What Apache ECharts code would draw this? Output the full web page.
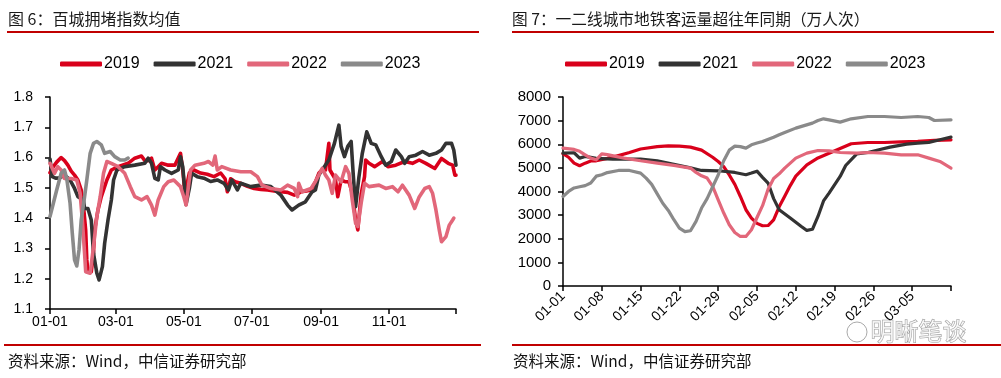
<!DOCTYPE html>
<html><head><meta charset="utf-8">
<script src="https://cdn.jsdelivr.net/npm/echarts@6/dist/echarts.min.js"></script>
<style>html,body{margin:0;padding:0;background:#fff;}#c{width:1001px;height:378px;}</style>
</head><body><div id="c"></div>
<script>
// ---------- categories / tick labels ----------
const MONTH_DAYS = [31,28,31,30,31,30,31,31,30,31,30,31];
function dayLabels(n){const out=[];let m=0,d=1;for(let i=0;i<n;i++){out.push(String(m+1).padStart(2,'0')+'-'+String(d).padStart(2,'0'));d++;if(d>MONTH_DAYS[m]){d=1;m++;}}return out;}
const leftCats = dayLabels(365);
const rightCats = dayLabels(71);
const LEFT_TICKS = ['01-01','03-01','05-01','07-01','09-01','11-01'];
const RIGHT_TICKS = ['01-01','01-08','01-15','01-22','01-29','02-05','02-12','02-19','02-26','03-05'];
const SERIES_NAMES = ['2019','2021','2022','2023'];

// ---------- left chart: 百城拥堵指数均值 (day index, value) ----------
const c19d = [0,3,6,10,13,16,19,22,25,28,30,32,33,34,37,39,40,43,46,51,55,61,70,76,82,85,88,91,94,97,100,106,112,117,119,121,125,129,135,141,147,153,157,159,162,166,171,177,183,189,195,201,207,213,219,222,225,230,234,238,241,244,247,250,251,254,256,258,261,265,268,271,274,276,279,282,283,286,291,298,303,310,318,325,331,337,345,351,357,361,363,364];
const c19v = [1.55,1.57,1.585,1.60,1.59,1.575,1.555,1.542,1.526,1.493,1.44,1.36,1.262,1.223,1.223,1.285,1.361,1.427,1.471,1.526,1.559,1.570,1.581,1.598,1.605,1.59,1.59,1.598,1.559,1.57,1.581,1.575,1.575,1.614,1.56,1.48,1.55,1.559,1.549,1.545,1.537,1.549,1.53,1.487,1.53,1.52,1.515,1.505,1.498,1.495,1.493,1.49,1.487,1.485,1.476,1.48,1.487,1.49,1.493,1.52,1.548,1.56,1.559,1.647,1.559,1.54,1.526,1.471,1.526,1.52,1.52,1.482,1.394,1.361,1.48,1.537,1.592,1.581,1.57,1.587,1.57,1.575,1.587,1.581,1.592,1.581,1.564,1.597,1.581,1.575,1.542,1.542];
const c21d = [0,2,5,8,13,18,22,25,30,31,34,37,39,42,44,47,49,52,55,57,60,67,76,85,88,91,94,97,99,103,109,115,117,119,122,125,127,132,138,144,150,156,160,163,168,171,180,189,198,207,213,217,223,229,235,238,241,244,250,255,259,261,264,267,270,272,274,277,280,284,288,292,297,301,306,310,315,318,322,328,334,340,346,351,355,360,362,364];
const c21v = [1.595,1.537,1.532,1.532,1.542,1.526,1.498,1.471,1.46,1.432,1.432,1.394,1.284,1.218,1.196,1.24,1.317,1.394,1.46,1.526,1.559,1.570,1.575,1.581,1.598,1.581,1.531,1.526,1.570,1.559,1.548,1.559,1.603,1.57,1.445,1.50,1.548,1.537,1.532,1.521,1.526,1.515,1.493,1.526,1.493,1.515,1.504,1.509,1.504,1.476,1.443,1.427,1.443,1.454,1.487,1.493,1.542,1.559,1.592,1.647,1.707,1.637,1.603,1.637,1.653,1.537,1.438,1.537,1.614,1.685,1.647,1.642,1.603,1.575,1.587,1.625,1.603,1.581,1.603,1.608,1.62,1.608,1.614,1.625,1.647,1.647,1.625,1.575];
const c22d = [0,4,7,10,13,19,24,27,29,31,32,36,39,42,45,48,51,55,61,67,72,76,82,87,91,94,97,102,106,111,117,120,122,126,130,138,142,146,148,150,154,162,171,180,186,190,198,207,213,219,222,223,226,234,238,244,247,250,253,256,261,265,268,271,274,276,279,282,286,295,301,307,312,316,322,327,331,336,340,343,346,349,351,355,358,361,362];
const c22v = [1.581,1.548,1.570,1.559,1.531,1.531,1.526,1.482,1.394,1.284,1.223,1.218,1.306,1.405,1.471,1.548,1.587,1.581,1.570,1.548,1.504,1.471,1.46,1.471,1.443,1.41,1.46,1.504,1.52,1.526,1.504,1.47,1.443,1.559,1.575,1.581,1.587,1.575,1.605,1.559,1.570,1.559,1.553,1.553,1.537,1.509,1.498,1.493,1.509,1.498,1.471,1.515,1.487,1.498,1.521,1.564,1.542,1.526,1.482,1.542,1.52,1.570,1.548,1.46,1.383,1.372,1.45,1.515,1.504,1.509,1.498,1.504,1.487,1.509,1.476,1.432,1.47,1.498,1.504,1.482,1.427,1.361,1.322,1.339,1.377,1.394,1.40];
const c23d = [0,3,6,10,13,15,18,20,22,24,26,28,31,33,36,39,42,46,49,54,58,63,67,70];
const c23v = [1.405,1.449,1.493,1.548,1.559,1.531,1.449,1.35,1.262,1.242,1.295,1.394,1.471,1.526,1.614,1.647,1.653,1.642,1.614,1.62,1.603,1.592,1.592,1.598];

// ---------- right chart: 地铁客运量 (day index, 万人次) ----------
const m19d = [0,1,2,3,4,5,6,8,10,12,14,17,19,21,23,25,27,28,29,30,31,32,33,34,35,36,37,38,39,40,41,42,44,46,48,50,52,55,58,61,64,67,70];
const m19v = [5600,5450,5200,5090,5200,5290,5300,5400,5520,5650,5800,5900,5930,5920,5880,5750,5450,5271,5050,4700,4300,3790,3228,2876,2650,2550,2560,2800,3350,3800,4250,4650,5131,5420,5620,5820,6020,6074,6074,6100,6120,6160,6188];
const m21d = [0,2,3,4,6,9,14,17,20,23,25,28,31,33,34,35,36,37,38,39,41,43,44,45,46,47,48,50,51,53,55,57,59,62,64,66,68,70];
const m21v = [5626,5640,5414,5485,5400,5372,5372,5300,5150,5000,4891,4877,4806,4708,4780,4860,4600,4357,3700,3228,2876,2521,2352,2400,2944,3600,3934,4636,5100,5596,5651,5766,5880,6007,6049,6077,6188,6302];
const m22d = [0,2,3,4,5,6,7,8,11,14,17,20,23,24,25,26,27,28,29,30,31,32,33,34,35,36,37,38,39,40,42,44,46,48,50,53,55,58,61,64,66,68,70];
const m22v = [5837,5780,5700,5554,5414,5343,5596,5560,5414,5300,5203,5103,4991,4806,4666,4568,4214,3650,3088,2593,2267,2098,2098,2380,2900,3400,4100,4550,4750,4991,5414,5626,5736,5720,5651,5626,5651,5626,5554,5554,5414,5271,4991];
const m23d = [0,1,2,3,4,5,6,7,8,10,12,14,15,16,17,18,19,20,21,22,23,24,25,26,27,28,29,30,31,32,33,34,35,36,38,39,40,42,45,46,47,48,50,52,55,58,61,64,66,67,70];
const m23v = [3790,4002,4150,4200,4250,4357,4650,4708,4800,4891,4891,4780,4568,4300,3900,3500,3200,2805,2453,2300,2340,2733,3300,3700,4200,4700,5300,5750,5920,5900,5837,5977,6050,6117,6300,6400,6497,6683,6895,7005,7077,7034,6937,7077,7174,7174,7132,7174,7132,7005,7034];

const COLORS = ['#d9001b','#333333','#e2677a','#8a8a8a'];
const pairs = (d,v)=>d.map((x,i)=>[x,v[i]]);
const NUM_FONT = 'Liberation Sans';
const CJK_FONT = 'Noto Sans CJK SC';

function mkSeries(name, data, idx, color, w){
  return {name, type:'line', xAxisIndex:idx, yAxisIndex:idx, data, symbol:'none', smooth:false,
    lineStyle:{color, width:w, join:'round', cap:'round'}, itemStyle:{color}, animation:false};
}
const leftData = [pairs(c19d,c19v),pairs(c21d,c21v),pairs(c22d,c22v),pairs(c23d,c23v)];
const rightData = [pairs(m19d,m19v),pairs(m21d,m21v),pairs(m22d,m22v),pairs(m23d,m23v)];
const series = [];
SERIES_NAMES.forEach((n,i)=>series.push(mkSeries(n,leftData[i],0,COLORS[i],3.6)));
SERIES_NAMES.forEach((n,i)=>series.push(mkSeries(n,rightData[i],1,COLORS[i],3.2)));

const axisLineStyle = {show:true, lineStyle:{color:'#000', width:1.5}};
function legendCfg(left){
  return {left, top:51, itemWidth:42, itemHeight:5, itemGap:14, icon:'roundRect',
    textStyle:{fontFamily:NUM_FONT, fontSize:16, color:'#000', padding:[0,0,0,-3]},
    data:SERIES_NAMES.map((n,i)=>({name:n, itemStyle:{color:COLORS[i]}})), selectedMode:false};
}

const chart = echarts.init(document.getElementById('c'), null, {renderer:'canvas'});
chart.setOption({
  animation:false,
  backgroundColor:'#fff',
  legend:[legendCfg(55), legendCfg(560)],
  grid:[{left:50, top:97, width:406, height:212},{left:563, top:97, width:388, height:189}],
  xAxis:[
    {type:'category', gridIndex:0, data:leftCats, boundaryGap:false, axisLine:axisLineStyle,
     axisTick:{show:true, length:5, lineStyle:{color:'#000', width:1.5}, interval:(i,v)=>LEFT_TICKS.includes(v)||i===364},
     axisLabel:{interval:(i,v)=>LEFT_TICKS.includes(v), fontFamily:NUM_FONT, fontSize:14, color:'#000', margin:6},
     splitLine:{show:false}},
    {type:'category', gridIndex:1, data:rightCats, boundaryGap:false, axisLine:axisLineStyle,
     axisTick:{show:true, length:5, lineStyle:{color:'#000', width:1.5}, interval:(i,v)=>i%7===0},
     axisLabel:{interval:(i,v)=>RIGHT_TICKS.includes(v), rotate:45, fontFamily:NUM_FONT, fontSize:14, color:'#000', margin:8},
     splitLine:{show:false}}
  ],
  yAxis:[
    {type:'value', gridIndex:0, min:1.1, max:1.8, interval:0.1, axisLine:axisLineStyle,
     axisTick:{show:true, length:5, lineStyle:{color:'#000', width:1.5}},
     axisLabel:{formatter:v=>v.toFixed(1), fontFamily:NUM_FONT, fontSize:14, color:'#000', margin:17},
     splitLine:{show:false}},
    {type:'value', gridIndex:1, min:0, max:8000, interval:1000, axisLine:axisLineStyle,
     axisTick:{show:true, length:5, lineStyle:{color:'#000', width:1.5}},
     axisLabel:{formatter:v=>String(Math.round(v)), fontFamily:NUM_FONT, fontSize:15, color:'#000', margin:12},
     splitLine:{show:false}}
  ],
  series,
  graphic:[
    {type:'text', left:8, top:11, style:{text:'图 6：百城拥堵指数均值', font:'16px "'+CJK_FONT+'"', fill:'#1a1a1a'}},
    {type:'text', left:512, top:11, style:{text:'图 7：一二线城市地铁客运量超往年同期（万人次）', font:'15.7px "'+CJK_FONT+'"', fill:'#1a1a1a'}},
    {type:'rect', shape:{x:7, y:31, width:472, height:2}, style:{fill:'#c00000'}},
    {type:'rect', shape:{x:512, y:31, width:482, height:2}, style:{fill:'#c00000'}},
    {type:'rect', shape:{x:4, y:344, width:477, height:2}, style:{fill:'#c00000'}},
    {type:'rect', shape:{x:512, y:344, width:489, height:2}, style:{fill:'#c00000'}},
    {type:'text', left:8, top:353, style:{text:'资料来源：Wind，中信证券研究部', font:'15.5px "'+CJK_FONT+'"', fill:'#111'}},
    {type:'text', left:513, top:353, style:{text:'资料来源：Wind，中信证券研究部', font:'15.5px "'+CJK_FONT+'"', fill:'#111'}},
    {type:'circle', shape:{cx:857, cy:332, r:10}, style:{fill:'rgba(255,255,255,0.7)', stroke:'#aaa', lineWidth:1}},
    {type:'text', left:870, top:318, style:{text:'明晰笔谈', font:'24px "'+CJK_FONT+'"', fill:'rgba(255,255,255,0.75)', stroke:'#9a9a9a', lineWidth:1}}
  ]
});
</script></body></html>
